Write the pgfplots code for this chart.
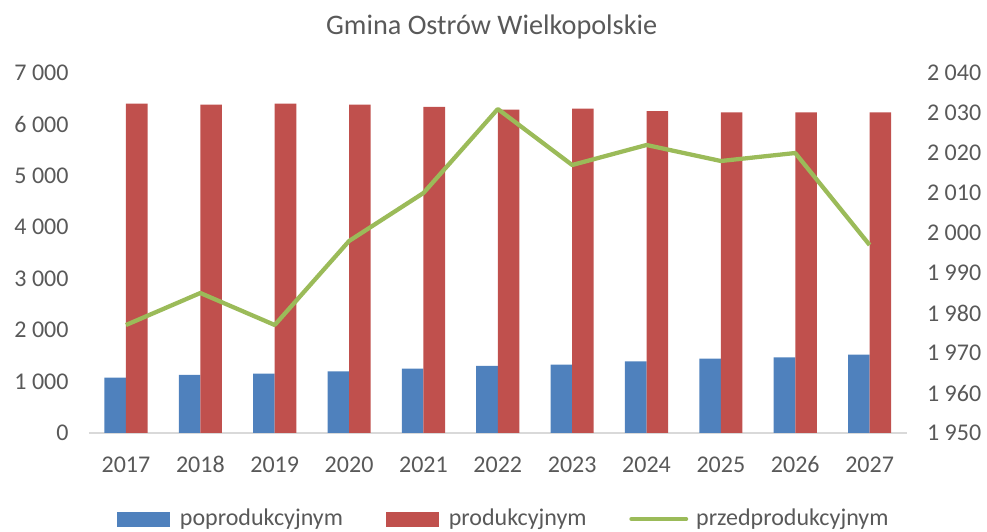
\documentclass[border=0pt]{standalone}
\usepackage{pgfplots}
\pgfplotsset{compat=1.18}
\usepackage{fontspec}
\setmainfont{Carlito}
\definecolor{cblue}{HTML}{4F81BD}
\definecolor{cred}{HTML}{C0504D}
\definecolor{cgreen}{HTML}{9BBB59}
\definecolor{ctext}{HTML}{595959}
\definecolor{cgrid}{HTML}{D9D9D9}
\pgfplotstableread{
x year pop prod przed
0 2017 1077 6405 1977
1 2018 1128 6385 1985
2 2019 1155 6405 1977
3 2020 1200 6385 1998
4 2021 1252 6339 2010
5 2022 1303 6288 2031
6 2023 1330 6307 2017
7 2024 1394 6261 2022
8 2025 1446 6236 2018
9 2026 1472 6236 2020
10 2027 1524 6236 1997
}\data
\begin{document}
\fontsize{18pt}{21pt}\selectfont
\begin{tikzpicture}
\useasboundingbox (0,0) rectangle (740.25pt,398.25pt);
\pgfplotsset{
  every axis/.append style={
    scale only axis, width=613.5pt, height=270pt,
    at={(66.6pt,73.5pt)}, anchor=south west,
    xmin=-0.5, xmax=10.5,
    major tick length=0pt,
    tick label style={font=\fontsize{18pt}{21pt}\selectfont, text=ctext},
    /pgf/number format/assume math mode=true,
    /pgf/number format/1000 sep={\ },
  }
}
\begin{axis}[
  clip=false,
  axis y line*=left, axis x line*=bottom,
  ymin=0, ymax=7000, ytick={0,1000,...,7000},
  y axis line style={draw=none},
  x axis line style={draw=cgrid, line width=0.8pt},
  xtick=data, xticklabels={2017,2018,2019,2020,2021,2022,2023,2024,2025,2026,2027},
  yticklabel style={xshift=-9pt},
  xticklabel style={anchor=base, yshift=-29.8pt},
  ybar=0pt, bar width=0.29,
]
\addplot[fill=cblue, draw=none] table[x=x,y=pop]{\data};
\addplot[fill=cred, draw=none] table[x=x,y=prod]{\data};
\node[text=ctext, font=\fontsize{21.2pt}{25pt}\selectfont] at (axis description cs:0.4925,1.128) {Gmina Ostrów Wielkopolskie};
\end{axis}
\begin{axis}[
  axis y line*=right, axis x line=none,
  ymin=1950, ymax=2040, ytick={1950,1960,...,2040},
  y axis line style={draw=none},
  yticklabel style={xshift=9pt},
  legend columns=3,
  legend style={draw=none, fill=none, at={(axis description cs:0.5075,-0.239)}, anchor=center,
    font=\fontsize{18pt}{21pt}\selectfont, text=ctext,
    /tikz/every even column/.style={column sep=30pt},
    inner sep=0pt},
  legend cell align=left,
]
\addlegendimage{legend image code/.code={\fill[cblue] (0pt,-5.25pt) rectangle (39pt,5.25pt); \path (45pt,0pt);}}
\addlegendentry{poprodukcyjnym}
\addlegendimage{legend image code/.code={\fill[cred] (0pt,-5.25pt) rectangle (39pt,5.25pt); \path (45pt,0pt);}}
\addlegendentry{produkcyjnym}
\addplot[cgreen, line width=3.2pt, mark=none, line join=round,
  legend image code/.code={\draw[cgreen, line width=3.2pt, line cap=round] (0pt,0pt) -- (41pt,0pt); \path (45pt,0pt);}]
  table[x=x,y=przed]{\data};
\addlegendentry{przedprodukcyjnym}
\end{axis}
\end{tikzpicture}
\end{document}
